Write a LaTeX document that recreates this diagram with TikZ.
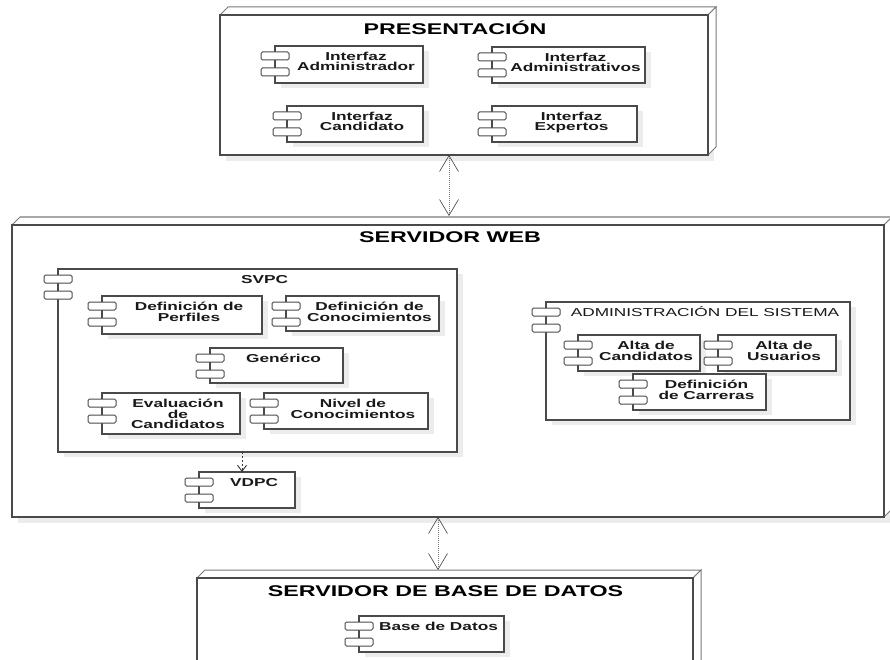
\documentclass[tikz,border=0pt]{standalone}
\usepackage{fontspec}
\setmainfont{Liberation Sans}[FakeStretch=1.5]
\usetikzlibrary{arrows.meta}
\definecolor{edge}{HTML}{4A4A4A}
\definecolor{faceedge}{HTML}{7A7A7A}
\definecolor{shad}{HTML}{ECECEC}
\tikzset{
  frontbox/.style={draw=edge, line width=1.4pt, fill=white, inner sep=0pt, outer sep=0pt, anchor=north west},
  sideface/.style={draw=faceedge, line width=1pt, fill=white},
  compbox/.style={draw=edge, line width=1.1pt, fill=white, inner sep=0pt, outer sep=0pt, anchor=north west},
  tabbox/.style={draw=edge, line width=1pt, fill=white, rounded corners=1.5pt},
  comptext/.style={anchor=north, align=center, inner sep=0pt, text=black!90,
    font=\fontsize{11.5}{10.5}\selectfont\bfseries},
  plaintext/.style={comptext, font=\fontsize{11.5}{10.5}\selectfont},
  titletext/.style={anchor=base, inner sep=0pt, text=black,
    font=\fontsize{15.5}{17}\selectfont\bfseries},
  commlink/.style={draw=gray, line width=0.5pt, dash pattern=on 1pt off 1pt,
    {Straight Barb[length=16pt,width=19pt,line width=0.6pt,color=black!75]}-{Straight Barb[length=16pt,width=19pt,line width=0.6pt,color=black!75]}},
  deplink/.style={draw=black!80, line width=0.9pt, dash pattern=on 2pt off 2pt,
    -{Straight Barb[length=6pt,width=9pt,line width=0.9pt]}}
}
% component: name, L, T, R, B, text
\newcommand\compo[6]{%
  \fill[shad] (#2+6,#3+5) rectangle (#4+6,#5+5);
  \node[compbox, minimum width={#4-#2}, minimum height={#5-#3}] (#1) at (#2,#3) {};
  \draw[tabbox] (#2-14,#3+6) rectangle (#2+14,#3+14);
  \draw[tabbox] (#2-14,#3+22) rectangle (#2+14,#3+30);
  \node[comptext] (#1-t) at ({(#2+14+#4)/2},#3+3.5) {\rule{0pt}{10.8pt}#6};
}
% deployment node: name, L, T, R, B
\newcommand\depnode[5]{%
  \fill[shad] (#2+6,#3+6) rectangle (#4+6,#5+6);
  \draw[sideface] (#2,#3) -- (#2+8,#3-8) -- (#4+8,#3-8) -- (#4,#3) -- cycle;
  \draw[sideface] (#4,#3) -- (#4+8,#3-8) -- (#4+8,#5-8) -- (#4,#5) -- cycle;
  \node[frontbox, minimum width={#4-#2}, minimum height={#5-#3}] (#1) at (#2,#3) {};
}
\begin{document}
\begin{tikzpicture}[x=1pt,y=-1pt]
\useasboundingbox (0,0) rectangle (890,660);
\clip (0,0) rectangle (890,660);

% ---------- PRESENTACION ----------
\depnode{pres}{220}{15}{708}{155}
\node[titletext] (prestitle) at (455,35) {PRESENTACIÓN};
\compo{ia}{275}{46}{423}{83}{Interfaz\\Administrador}
\compo{iadm}{492}{47}{645}{83}{Interfaz\\Administrativos}
\compo{ic}{287}{106}{423}{142}{Interfaz\\Candidato}
\compo{ie}{492}{106}{637}{142}{Interfaz\\Expertos}

% ---------- SERVIDOR WEB ----------
\depnode{web}{12}{225}{884}{517}
\node[titletext] (webtitle) at (450,242) {SERVIDOR WEB};

\compo{svpc}{58}{269}{457}{452}{SVPC}
\compo{dp}{102}{296}{262}{334}{Definición de\\Perfiles}
\compo{dc}{286}{296}{439}{331}{Definición de\\Conocimientos}
\compo{gen}{210}{348}{343}{383}{Genérico}
\compo{ec}{102}{393}{240}{434}{Evaluación\\de\\Candidatos}
\compo{nc}{264}{393}{428}{429}{Nivel de\\Conocimientos}
\compo{vdpc}{199}{472}{295}{508}{VDPC}

% ADMINISTRACION DEL SISTEMA (title in regular weight)
\fill[shad] (552,307) rectangle (856,425);
\node[compbox, minimum width=304, minimum height=118] (adm) at (546,302) {};
\draw[tabbox] (532,308) rectangle (560,316);
\draw[tabbox] (532,324) rectangle (560,332);
\node[plaintext] (adm-t) at (705,305.5) {\rule{0pt}{10.8pt}ADMINISTRACIÓN DEL SISTEMA};
\compo{ac}{578}{335}{700}{371}{Alta de\\Candidatos}
\compo{au}{718}{335}{836}{371}{Alta de\\Usuarios}
\compo{dca}{633}{374}{766}{410}{Definición\\de Carreras}

% ---------- SERVIDOR DE BASE DE DATOS ----------
\depnode{db}{197}{578}{693}{700}
\node[titletext] (dbtitle) at (445.5,596) {SERVIDOR DE BASE DE DATOS};
\compo{bd}{359}{616}{504}{652}{Base de Datos}

% ---------- connectors ----------
\coordinate (x1) at (449,0);
\coordinate (webback) at (449,216);
\draw[commlink] (pres.south -| x1) -- (webback);
\coordinate (x2) at (438,0);
\coordinate (dbback) at (438,570);
\draw[commlink] (web.south -| x2) -- (dbback);
\coordinate (x3) at (242,0);
\draw[deplink] (svpc.south -| x3) -- (vdpc.north -| x3);
\end{tikzpicture}
\end{document}
